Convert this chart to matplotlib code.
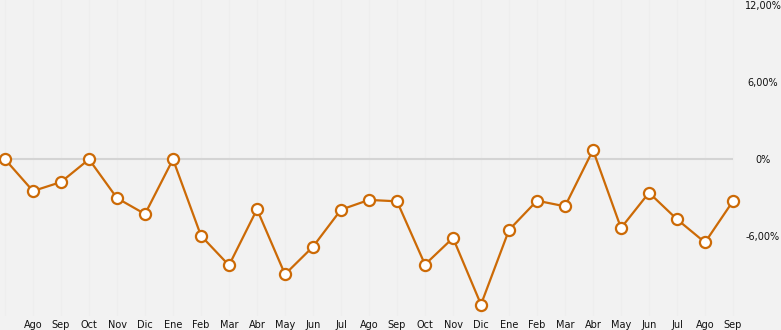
import matplotlib
matplotlib.use("Agg")
import matplotlib.pyplot as plt

months = ["", "Ago", "Sep", "Oct", "Nov", "Dic", "Ene", "Feb", "Mar", "Abr", "May", "Jun",
          "Jul", "Ago", "Sep", "Oct", "Nov", "Dic", "Ene", "Feb", "Mar", "Abr", "May",
          "Jun", "Jul", "Ago", "Sep"]
values = [0.0, -2.47, -1.77, 0.0, -3.02, -4.26, 0.0, -5.95, -8.25, -3.89, -8.95, -6.8,
          -3.92, -3.16, -3.27, -8.19, -6.12, -11.3, -5.5, -3.22, -3.66, 0.72, -5.35,
          -2.6, -4.67, -6.47, -3.25]
yticks = [12, 6, 0, -6]
ytick_labels = ["12,00%", "6,00%", "0%", "-6,00%"]

W, H = 781, 330
bg = "#f2f2f2"
fig = plt.figure(figsize=(W / 100, H / 100), dpi=100, facecolor=bg)
ax_right = 745
ax_bottom = 316
ax = fig.add_axes([0, (H - ax_bottom) / H, ax_right / W, ax_bottom / H])
ax.set_facecolor(bg)

x = list(range(len(values)))
step = 28.0
x0 = -5 / step
x1 = (ax_right - 5) / step
ax.set_xlim(x0, x1)
pxper = 12.85
zero_px = 159.3
ax.set_ylim(-(ax_bottom - zero_px) / pxper, zero_px / pxper)

for xi in x:
    ax.axvline(xi, color="#eeeeee", lw=0.8, zorder=0)
ax.hlines(0, x0, x[-1], color="#d4d4d4", lw=1.5, zorder=1)

color = "#cc6a06"
ax.plot(x, values, color=color, lw=1.6, marker="o", markersize=8,
        markerfacecolor="white", markeredgecolor=color, markeredgewidth=1.6, zorder=3,
        clip_on=False)

ax.set_xticks(x)
ax.set_xticklabels(months, fontsize=7, color="#111111")
ax.tick_params(axis="x", length=0, pad=3)
ax.yaxis.tick_right()
ax.set_yticks(yticks)
ax.set_yticklabels(ytick_labels, fontsize=7, color="#111111", ha="center")
ax.tick_params(axis="y", length=0, pad=13)
for s in ax.spines.values():
    s.set_visible(False)

fig.savefig("out.png", dpi=100, facecolor=bg)
